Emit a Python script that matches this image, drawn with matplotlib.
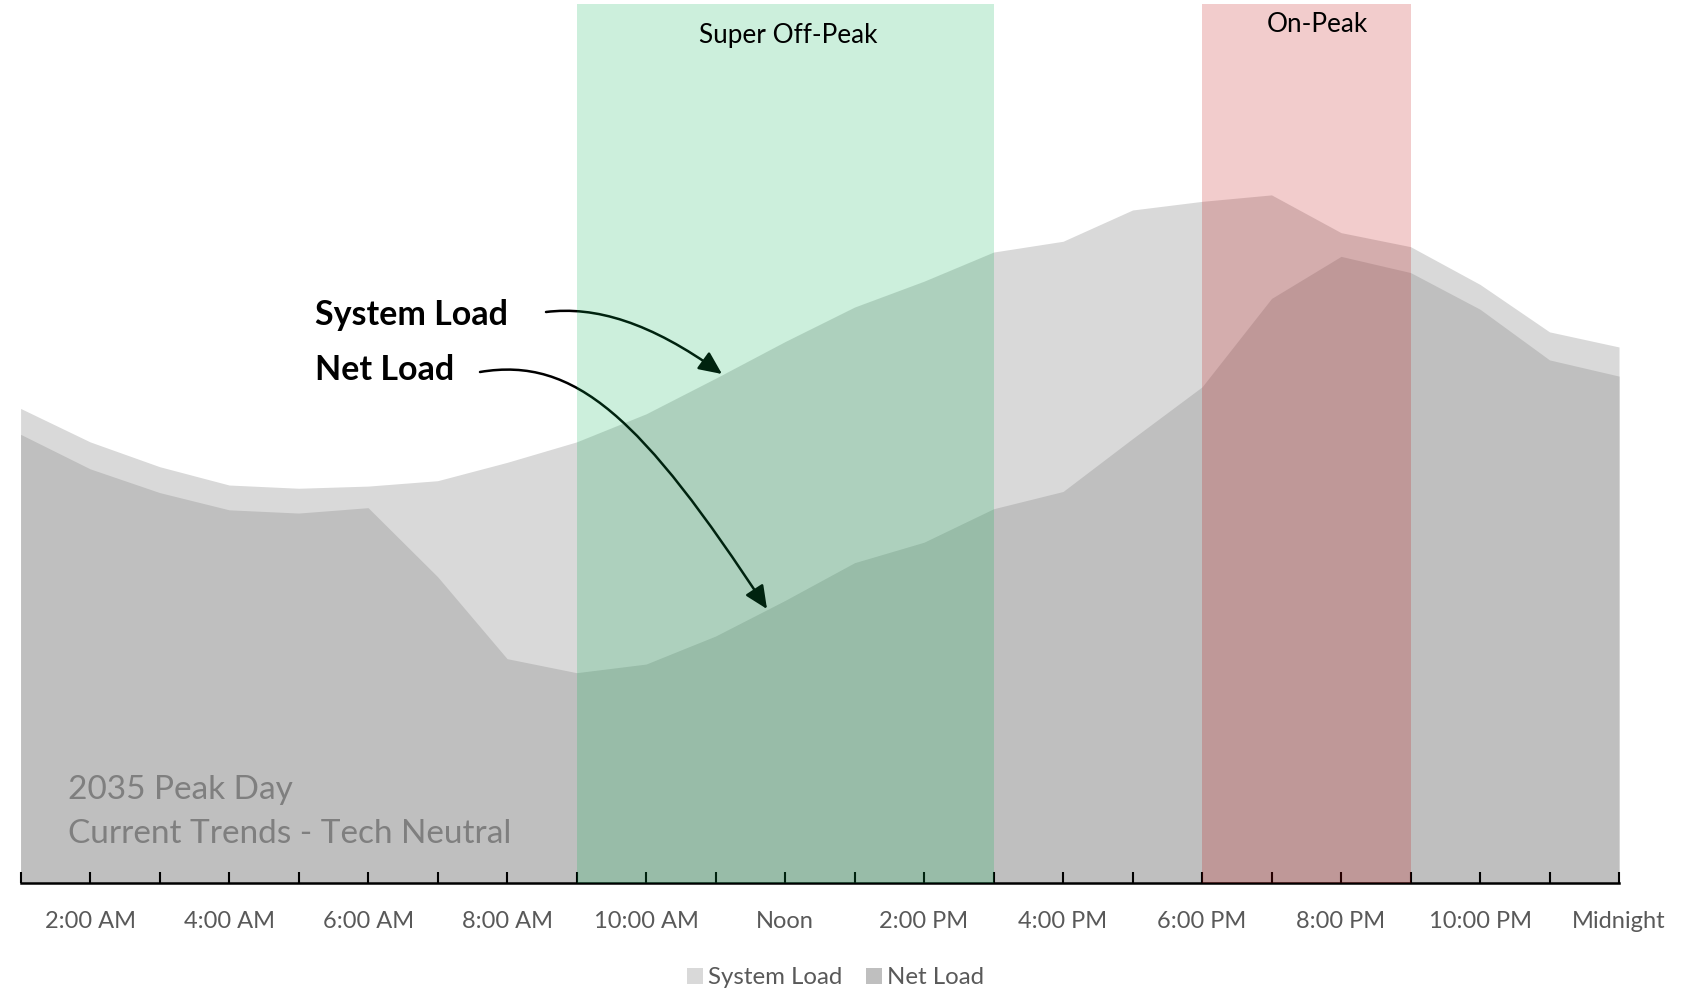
import matplotlib

matplotlib.use("Agg")
import matplotlib.pyplot as plt  # noqa: E402
from matplotlib.patches import FancyArrowPatch, Patch  # noqa: E402
from matplotlib.path import Path  # noqa: E402

plt.rcParams["font.family"] = ["Lato", "DejaVu Sans"]

# Hour of day (1 = 1:00 AM ... 24 = midnight), load in GW
hours = list(range(1, 25))
system_load = [44.0, 40.9, 38.6, 36.9, 36.6, 36.8, 37.3, 39.0, 40.9, 43.5, 46.8, 50.2,
               53.4, 55.8, 58.5, 59.5, 62.4, 63.2, 63.8, 60.3, 59.0, 55.5, 51.1, 49.7]
net_load = [41.6, 38.4, 36.2, 34.6, 34.3, 34.8, 28.4, 20.8, 19.5, 20.3, 22.9, 26.2,
            29.7, 31.6, 34.7, 36.3, 41.2, 46.0, 54.2, 58.1, 56.6, 53.2, 48.5, 47.0]
tick_labels = ["", "2:00 AM", "", "4:00 AM", "", "6:00 AM", "", "8:00 AM",
               "", "10:00 AM", "", "Noon", "", "2:00 PM", "", "4:00 PM",
               "", "6:00 PM", "", "8:00 PM", "", "10:00 PM", "", "Midnight"]
super_off_peak = (9, 15)
on_peak = (18, 21)

SYS_GRAY = "#D9D9D9"
NET_GRAY = "#BFBFBF"
TEXT_GRAY = "#595959"

W, H = 1688, 990
fig = plt.figure(figsize=(W / 100, H / 100), dpi=100)
ax = fig.add_axes([20.6 / W, (H - 883) / H, (1619 - 20.6) / W, (883 - 4) / H])

ax.fill_between(hours, 0, system_load, color=SYS_GRAY, linewidth=0, zorder=1)
ax.fill_between(hours, 0, net_load, color=NET_GRAY, linewidth=0, zorder=1.5)

ax.axvspan(*super_off_peak, color="#00B050", alpha=0.2, linewidth=0, zorder=10)
ax.axvspan(*on_peak, color="#C00000", alpha=0.2, linewidth=0, zorder=10)

ax.text(12.05, 0.964, "Super Off-Peak", transform=ax.get_xaxis_transform(),
        ha="center", va="center", fontsize=18.8, color="black", zorder=11)
ax.text(19.66, 0.977, "On-Peak", transform=ax.get_xaxis_transform(),
        ha="center", va="center", fontsize=18.8, color="black", zorder=11)

ax.set_xlim(1, 24)
ax.set_ylim(0, 81.5)
ax.set_xticks(hours)
ax.set_xticklabels(tick_labels, fontsize=17, color=TEXT_GRAY)
ax.tick_params(axis="x", direction="in", length=8, width=1.5, color="black", pad=20)
ax.set_yticks([])
for side in ("top", "right", "left"):
    ax.spines[side].set_visible(False)
ax.spines["bottom"].set_linewidth(1.8)
ax.spines["bottom"].set_zorder(5)


# Callout labels with curved arrows (figure pixel coords, y from top)
def fpx(x, y):
    return (x / W, 1 - y / H)


ax.text(0.184, 0.646, "System Load", transform=ax.transAxes, ha="left",
        va="center", fontsize=24.5, fontweight="bold", color="black")
ax.text(0.184, 0.584, "Net Load", transform=ax.transAxes, ha="left",
        va="center", fontsize=24.5, fontweight="bold", color="black")

arrow_paths = [
    [(546, 312), (595, 306), (650, 322), (722, 374)],
    [(480, 372), (575, 356), (642, 418), (767, 609)],
]
for pts in arrow_paths:
    verts = [fpx(*p) for p in pts]
    path = Path(verts, [Path.MOVETO, Path.CURVE4, Path.CURVE4, Path.CURVE4])
    arr = FancyArrowPatch(path=path, arrowstyle="-|>,head_length=0.7,head_width=0.32",
                          mutation_scale=20, color="black", linewidth=1.8,
                          transform=fig.transFigure, zorder=8, clip_on=False)
    ax.add_patch(arr)

ax.text(0.0297, 0.106, "2035 Peak Day", transform=ax.transAxes, ha="left",
        va="center", fontsize=24, color="#7F7F7F", zorder=3)
ax.text(0.0297, 0.056, "Current Trends - Tech Neutral", transform=ax.transAxes,
        ha="left", va="center", fontsize=24, color="#7F7F7F", zorder=3)

handles = [Patch(facecolor=SYS_GRAY, label="System Load"),
           Patch(facecolor=NET_GRAY, label="Net Load")]
fig.legend(handles=handles, loc="center", bbox_to_anchor=(0.495, 1 - 978 / H), ncol=2,
           frameon=False, fontsize=17.3, labelcolor=TEXT_GRAY, handlelength=0.65,
           handleheight=0.65, handletextpad=0.2, columnspacing=1.0)

fig.savefig("out.png", dpi=100)
